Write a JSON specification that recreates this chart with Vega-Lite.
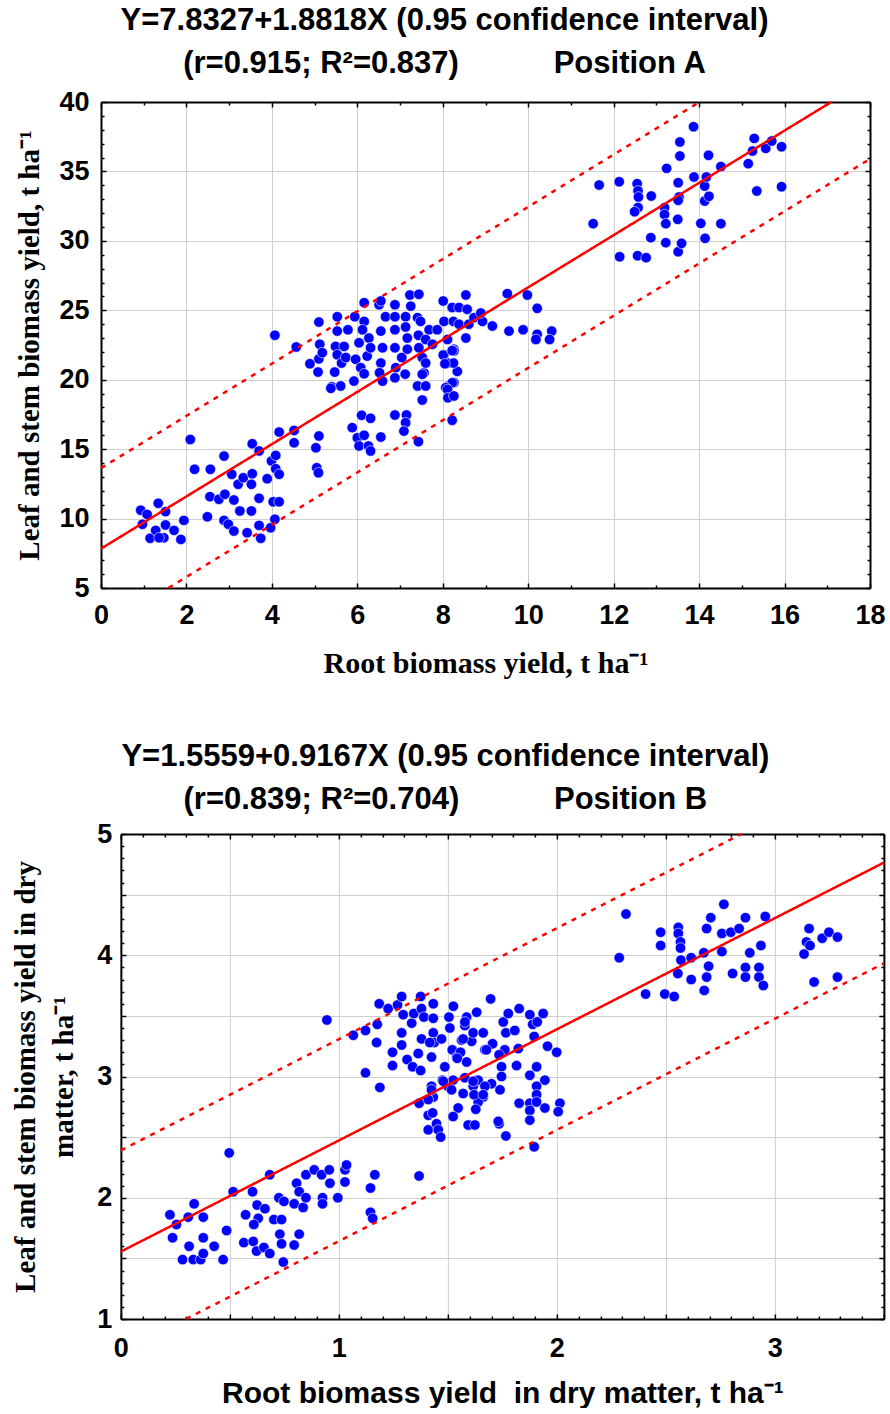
{
  "$schema": "https://vega.github.io/schema/vega-lite/v6.json",
  "background": "white",
  "padding": {"left": 11, "top": 5, "right": 0, "bottom": 0},
  "config": {
    "view": {"stroke": null},
    "axis": {"labelFont": "Liberation Sans", "labelFontWeight": "bold", "labelFontSize": 27, "labelColor": "black", "domainColor": "black", "domainWidth": 2, "tickColor": "black", "tickWidth": 1.5, "gridColor": "#cfcfcf", "gridWidth": 1, "titleColor": "black", "labelFlush": false, "labelOverlap": false},
    "title": {"font": "Liberation Sans", "fontSize": 31, "fontWeight": "bold", "color": "black", "lineHeight": 43}
  },
  "datasets": {
    "ptsA": [
      {"x":4.07,"y":23.2},{"x":4.57,"y":22.36},{"x":4.89,"y":21.15},{"x":5.08,"y":20.55},{"x":5.10,"y":24.15},{"x":5.12,"y":22.55},{"x":5.10,"y":21.5},{"x":5.18,"y":21.95},{"x":5.53,"y":24.54},{"x":5.53,"y":23.5},{"x":5.49,"y":22.4},{"x":5.53,"y":21.8},{"x":5.47,"y":20.55},{"x":5.40,"y":19.5},{"x":5.61,"y":19.55},{"x":5.63,"y":21.2},{"x":5.78,"y":23.6},{"x":5.73,"y":21.6},{"x":5.69,"y":22.4},{"x":5.94,"y":24.54},{"x":5.92,"y":19.9},{"x":6.16,"y":25.55},{"x":6.16,"y":24.2},{"x":6.12,"y":23.6},{"x":6.04,"y":22.66},{"x":5.96,"y":21.47},{"x":6.08,"y":20.87},{"x":6.16,"y":20.43},{"x":6.23,"y":21.7},{"x":6.27,"y":23.0},{"x":6.31,"y":22.3},{"x":6.51,"y":25.4},{"x":6.55,"y":25.67},{"x":6.55,"y":23.5},{"x":6.59,"y":22.3},{"x":6.55,"y":21.2},{"x":6.52,"y":20.5},{"x":6.59,"y":19.9},{"x":6.66,"y":24.54},{"x":6.88,"y":25.4},{"x":6.88,"y":24.54},{"x":6.88,"y":23.6},{"x":6.88,"y":22.3},{"x":6.90,"y":20.87},{"x":6.88,"y":20.14},{"x":7.04,"y":21.6},{"x":7.12,"y":20.4},{"x":7.13,"y":24.54},{"x":7.13,"y":23.8},{"x":7.17,"y":23.0},{"x":7.17,"y":22.2},{"x":7.23,"y":26.1},{"x":7.25,"y":25.3},{"x":7.41,"y":24.47},{"x":7.44,"y":26.15},{"x":7.43,"y":23.2},{"x":7.44,"y":22.3},{"x":7.48,"y":24.2},{"x":7.52,"y":21.6},{"x":7.60,"y":22.9},{"x":7.56,"y":20.5},{"x":7.60,"y":21.2},{"x":7.41,"y":19.55},{"x":7.60,"y":19.55},{"x":7.68,"y":23.6},{"x":7.87,"y":23.6},{"x":7.76,"y":22.55},{"x":8.01,"y":25.67},{"x":8.03,"y":24.2},{"x":8.11,"y":22.9},{"x":8.03,"y":21.8},{"x":8.11,"y":21.2},{"x":8.22,"y":25.2},{"x":8.25,"y":24.2},{"x":8.26,"y":22.2},{"x":8.34,"y":20.6},{"x":8.38,"y":25.2},{"x":8.38,"y":24.0},{"x":8.54,"y":26.1},{"x":8.57,"y":25.07},{"x":8.54,"y":23.0},{"x":8.61,"y":24.0},{"x":8.73,"y":24.47},{"x":8.93,"y":24.2},{"x":8.89,"y":24.8},{"x":8.13,"y":19.55},{"x":8.26,"y":19.8},
      {"x":9.16,"y":23.87},{"x":9.51,"y":26.2},{"x":9.98,"y":26.1},{"x":10.21,"y":25.14},{"x":9.55,"y":23.5},{"x":9.88,"y":23.6},{"x":10.21,"y":23.27},{"x":10.18,"y":22.9},{"x":10.55,"y":23.5},{"x":10.50,"y":22.9},{"x":8.26,"y":22.07},{"x":8.22,"y":19.78},{"x":8.07,"y":19.43},
      {"x":11.52,"y":31.24},{"x":11.66,"y":34.02},{"x":12.13,"y":34.26},{"x":12.14,"y":28.86},{"x":12.55,"y":34.12},{"x":12.57,"y":33.6},{"x":12.58,"y":33.16},{"x":12.57,"y":32.4},{"x":12.49,"y":32.1},{"x":12.56,"y":28.93},{"x":12.76,"y":28.79},{"x":12.88,"y":33.23},{"x":12.87,"y":30.23},{"x":13.19,"y":32.39},{"x":13.19,"y":31.9},{"x":13.22,"y":31.24},{"x":13.24,"y":35.22},{"x":13.22,"y":29.87},{"x":13.50,"y":31.55},{"x":13.51,"y":34.19},{"x":13.55,"y":36.11},{"x":13.55,"y":37.12},{"x":13.53,"y":33.16},{"x":13.51,"y":32.92},{"x":13.51,"y":29.22},{"x":13.59,"y":29.82},{"x":13.87,"y":38.22},{"x":13.88,"y":34.6},{"x":14.04,"y":31.26},{"x":14.13,"y":33.95},{"x":14.13,"y":32.87},{"x":14.23,"y":33.21},{"x":14.22,"y":36.16},{"x":14.17,"y":34.6},{"x":14.14,"y":30.18},{"x":14.51,"y":35.35},{"x":14.51,"y":31.24},{"x":15.15,"y":35.56},{"x":15.29,"y":37.38},{"x":15.25,"y":36.47},{"x":15.35,"y":33.59},{"x":15.56,"y":36.66},{"x":15.70,"y":37.19},{"x":15.93,"y":36.78},{"x":15.93,"y":33.9},
      {"x":5.38,"y":19.38},{"x":7.52,"y":18.54},{"x":8.11,"y":19.3},{"x":8.12,"y":18.7},{"x":8.26,"y":18.83},{"x":8.22,"y":17.08},{"x":6.10,"y":17.44},{"x":6.31,"y":17.22},{"x":5.88,"y":16.55},{"x":6.0,"y":15.82},{"x":6.04,"y":15.23},{"x":6.16,"y":16.0},{"x":6.26,"y":15.23},{"x":6.31,"y":14.87},{"x":6.55,"y":15.87},{"x":6.88,"y":17.46},{"x":7.15,"y":17.46},{"x":7.13,"y":16.9},{"x":7.09,"y":16.3},{"x":7.43,"y":15.54},{"x":7.52,"y":20.39},{"x":8.01,"y":21.78},{"x":8.22,"y":22.1},{"x":8.25,"y":21.2},{"x":8.05,"y":21.15},
      {"x":2.09,"y":15.7},{"x":2.19,"y":13.55},{"x":2.56,"y":13.55},{"x":2.88,"y":14.5},{"x":3.06,"y":13.19},{"x":3.21,"y":12.47},{"x":3.33,"y":12.94},{"x":3.54,"y":15.39},{"x":3.54,"y":13.23},{"x":3.52,"y":12.47},{"x":3.70,"y":14.87},{"x":3.89,"y":12.87},{"x":3.99,"y":14.15},{"x":4.09,"y":14.55},{"x":4.09,"y":13.59},{"x":4.17,"y":13.19},{"x":4.17,"y":16.23},{"x":4.52,"y":16.35},{"x":4.52,"y":15.46},{"x":5.03,"y":15.1},{"x":5.10,"y":15.95},{"x":5.05,"y":13.66},{"x":5.09,"y":13.3},{"x":2.55,"y":11.58},{"x":2.76,"y":11.39},{"x":2.90,"y":11.75},{"x":3.11,"y":11.34},{"x":2.49,"y":10.13},{"x":2.88,"y":9.87},{"x":2.98,"y":9.59},{"x":3.11,"y":9.1},{"x":3.25,"y":10.55},{"x":3.42,"y":8.98},{"x":3.52,"y":10.55},{"x":3.70,"y":11.46},{"x":3.70,"y":9.51},{"x":3.74,"y":8.58},{"x":3.97,"y":9.34},{"x":4.03,"y":11.21},{"x":4.17,"y":11.21},{"x":4.07,"y":9.95},{"x":0.93,"y":10.6},{"x":0.97,"y":9.59},{"x":1.08,"y":10.3},{"x":1.34,"y":11.1},{"x":1.51,"y":10.5},{"x":1.15,"y":8.58},{"x":1.28,"y":9.15},{"x":1.47,"y":8.62},{"x":1.51,"y":9.54},{"x":1.71,"y":9.15},{"x":1.87,"y":8.5},{"x":1.94,"y":9.87},{"x":1.36,"y":8.62}
    ],
    "linesA": [
      {"x":0,"y":7.8327,"x2":17.094,"y2":40,"kind":"fit"},
      {"x":0,"y":13.63,"x2":14.01,"y2":40,"kind":"ci"},
      {"x":1.578,"y":5,"x2":18,"y2":35.9,"kind":"ci"}
    ],
    "ptsB": [
      {"x":0.945,"y":3.466},{"x":1.066,"y":3.34},{"x":1.122,"y":3.38},{"x":1.122,"y":3.03},{"x":1.188,"y":2.91},{"x":1.176,"y":3.43},{"x":1.173,"y":3.28},{"x":1.185,"y":3.60},{"x":1.226,"y":3.56},{"x":1.246,"y":3.20},{"x":1.246,"y":3.09},{"x":1.269,"y":3.59},{"x":1.288,"y":3.66},{"x":1.288,"y":3.36},{"x":1.288,"y":3.26},{"x":1.295,"y":3.51},{"x":1.313,"y":3.14},{"x":1.338,"y":3.08},{"x":1.334,"y":3.44},{"x":1.344,"y":3.52},{"x":1.364,"y":3.19},{"x":1.375,"y":3.66},{"x":1.379,"y":3.56},{"x":1.379,"y":3.31},{"x":1.375,"y":3.05},{"x":1.39,"y":3.49},{"x":1.425,"y":3.16},{"x":1.433,"y":3.60},{"x":1.433,"y":3.48},{"x":1.433,"y":3.36},{"x":1.437,"y":3.28},{"x":1.417,"y":3.28},{"x":1.471,"y":3.31},{"x":1.475,"y":2.97},{"x":1.486,"y":3.08},{"x":1.505,"y":3.49},{"x":1.509,"y":3.40},{"x":1.525,"y":3.58},{"x":1.52,"y":3.22},{"x":1.54,"y":3.16},{"x":1.558,"y":3.20},{"x":1.563,"y":3.30},{"x":1.578,"y":3.42},{"x":1.586,"y":3.49},{"x":1.586,"y":3.12},{"x":1.609,"y":3.29},{"x":1.616,"y":3.36},{"x":1.632,"y":3.53},{"x":1.662,"y":3.36},{"x":1.670,"y":3.22},{"x":1.696,"y":3.64},{"x":1.705,"y":3.27},{"x":1.50,"y":2.92},{"x":1.524,"y":2.97},{"x":1.632,"y":2.97},{"x":1.616,"y":2.92},{"x":1.70,"y":2.94},{"x":1.425,"y":2.92},{"x":1.433,"y":2.83},{"x":1.578,"y":2.99},
      {"x":1.578,"y":3.45},{"x":1.570,"y":3.31},{"x":1.543,"y":3.15},{"x":1.677,"y":3.22},{"x":1.754,"y":3.45},{"x":1.777,"y":3.52},{"x":1.766,"y":3.36},{"x":1.807,"y":3.38},{"x":1.827,"y":3.56},{"x":1.876,"y":3.51},{"x":1.889,"y":3.43},{"x":1.910,"y":3.45},{"x":1.937,"y":3.52},{"x":1.761,"y":3.22},{"x":1.735,"y":3.18},{"x":1.823,"y":3.23},{"x":1.896,"y":3.33},{"x":1.957,"y":3.25},{"x":1.999,"y":3.20},{"x":1.815,"y":3.09},{"x":1.746,"y":3.08},{"x":1.746,"y":3.0},{"x":1.876,"y":3.01},{"x":1.907,"y":3.08},{"x":1.945,"y":2.97},{"x":1.907,"y":2.92},{"x":1.639,"y":2.97},
      {"x":1.907,"y":2.85},{"x":1.827,"y":2.78},{"x":1.876,"y":2.78},{"x":1.907,"y":2.79},{"x":1.876,"y":2.72},{"x":1.945,"y":2.74},{"x":2.014,"y":2.78},{"x":2.006,"y":2.71},{"x":1.876,"y":2.64},{"x":1.735,"y":2.61},{"x":1.766,"y":2.51},{"x":1.896,"y":2.42},{"x":1.547,"y":2.74},{"x":1.598,"y":2.60},{"x":1.479,"y":2.96},{"x":1.517,"y":2.89},{"x":1.616,"y":2.96},{"x":1.67,"y":2.92},{"x":1.739,"y":2.89},{"x":1.662,"y":2.83},{"x":1.639,"y":2.79},{"x":1.570,"y":2.86},
      {"x":1.368,"y":2.78},{"x":1.41,"y":2.81},{"x":1.425,"y":2.89},{"x":1.41,"y":2.68},{"x":1.43,"y":2.70},{"x":1.41,"y":2.56},{"x":1.448,"y":2.61},{"x":1.456,"y":2.56},{"x":1.467,"y":2.50},{"x":1.524,"y":2.67},{"x":1.593,"y":2.60},{"x":1.624,"y":2.60},{"x":1.628,"y":2.73},{"x":1.62,"y":2.85},{"x":1.662,"y":2.85},{"x":1.731,"y":2.63},
      {"x":2.317,"y":4.34},{"x":2.286,"y":3.98},{"x":2.407,"y":3.68},{"x":2.495,"y":3.68},{"x":2.538,"y":3.66},{"x":2.476,"y":4.19},{"x":2.476,"y":4.08},{"x":2.557,"y":4.23},{"x":2.557,"y":4.18},{"x":2.567,"y":4.11},{"x":2.567,"y":4.06},{"x":2.569,"y":3.96},{"x":2.555,"y":3.85},{"x":2.616,"y":3.98},{"x":2.616,"y":3.80},{"x":2.674,"y":4.02},{"x":2.696,"y":3.91},{"x":2.687,"y":3.82},{"x":2.676,"y":3.71},{"x":2.687,"y":4.22},{"x":2.706,"y":4.31},{"x":2.766,"y":4.42},{"x":2.757,"y":4.18},{"x":2.757,"y":4.03},{"x":2.798,"y":4.19},{"x":2.806,"y":3.85},{"x":2.836,"y":4.22},{"x":2.865,"y":4.31},{"x":2.865,"y":3.90},{"x":2.865,"y":3.82},{"x":2.885,"y":4.02},{"x":2.927,"y":3.90},{"x":2.927,"y":3.82},{"x":2.936,"y":4.08},{"x":2.947,"y":3.75},{"x":2.956,"y":4.32},{"x":3.134,"y":4.01},{"x":3.145,"y":4.11},{"x":3.157,"y":4.22},{"x":3.161,"y":4.08},{"x":3.18,"y":3.78},{"x":3.217,"y":4.14},{"x":3.248,"y":4.19},{"x":3.287,"y":4.15},{"x":3.287,"y":3.82},
      {"x":0.497,"y":2.37},{"x":0.515,"y":2.05},{"x":0.225,"y":1.86},{"x":0.255,"y":1.78},{"x":0.237,"y":1.67},{"x":0.309,"y":1.84},{"x":0.336,"y":1.95},{"x":0.378,"y":1.84},{"x":0.378,"y":1.67},{"x":0.313,"y":1.60},{"x":0.283,"y":1.49},{"x":0.332,"y":1.49},{"x":0.366,"y":1.49},{"x":0.378,"y":1.54},{"x":0.428,"y":1.60},{"x":0.469,"y":1.49},{"x":0.485,"y":1.73},{"x":0.572,"y":1.86},{"x":0.604,"y":2.05},{"x":0.625,"y":1.94},{"x":0.630,"y":1.83},{"x":0.61,"y":1.78},{"x":0.564,"y":1.63},{"x":0.607,"y":1.64},{"x":0.622,"y":1.56},{"x":0.661,"y":1.91},{"x":0.656,"y":1.59},{"x":0.683,"y":1.54},{"x":0.683,"y":2.19},{"x":0.702,"y":1.82},{"x":0.725,"y":2.00},{"x":0.729,"y":1.70},{"x":0.737,"y":1.82},{"x":0.737,"y":1.62},{"x":0.745,"y":1.47},{"x":0.748,"y":1.97},{"x":0.795,"y":1.95},{"x":0.806,"y":2.12},{"x":0.818,"y":2.05},{"x":0.818,"y":1.70},{"x":0.795,"y":1.61},{"x":0.836,"y":1.92},{"x":0.849,"y":2.00},{"x":0.849,"y":2.19},{"x":0.887,"y":2.23},{"x":0.921,"y":2.19},{"x":0.956,"y":2.23},{"x":0.959,"y":2.12},{"x":0.925,"y":2.00},{"x":0.925,"y":1.95},{"x":0.995,"y":2.00},{"x":1.028,"y":2.23},{"x":1.035,"y":2.27},{"x":1.028,"y":2.13},{"x":1.145,"y":2.08},{"x":1.165,"y":2.19},{"x":1.145,"y":1.88},{"x":1.155,"y":1.83},{"x":1.368,"y":2.18}
    ],
    "linesB": [
      {"x":0,"y":1.5559,"x2":3.5,"y2":4.7644,"kind":"fit"},
      {"x":0,"y":2.39,"x2":2.846,"y2":5,"kind":"ci"},
      {"x":0.299,"y":1,"x2":3.5,"y2":3.934,"kind":"ci"}
    ]
  },
  "spacing": 63,
  "center": true,
  "vconcat": [
    {
      "width": 769,
      "height": 486,
      "title": {"text": ["Y=7.8327+1.8818X (0.95 confidence interval)", "(r=0.915; R²=0.837)\u00a0\u00a0\u00a0\u00a0\u00a0\u00a0\u00a0\u00a0\u00a0\u00a0\u00a0Position A"], "anchor": "middle", "frame": "group", "dx": -41, "offset": 8},
      "layer": [
        {
          "data": {"name": "ptsA"},
          "mark": {"type": "circle", "size": 110, "color": "#0000ff", "opacity": 1, "stroke": "white", "strokeWidth": 0.6},
          "encoding": {
            "x": {"field": "x", "type": "quantitative", "scale": {"domain": [0, 18], "nice": false, "zero": false},
              "axis": {"orient": "bottom", "values": [0,1,2,3,4,5,6,7,8,9,10,11,12,13,14,15,16,17,18],
                "labelExpr": "datum.value % 2 === 0 ? format(datum.value, 'd') : ''",
                "grid": true, "gridOpacity": {"condition": {"test": "datum.value % 2 === 0", "value": 1}, "value": 0},
                "tickSize": -5, "tickDash": {"condition": {"test": "datum.value % 2 === 0", "value": [5, 5]}, "value": [3, 10]},
                "labelPadding": 19, "title": "Root biomass yield, t ha\u207b\u00b9", "titleFont": "Liberation Serif", "titleFontSize": 30, "titleFontWeight": "bold", "titlePadding": 20}},
            "y": {"field": "y", "type": "quantitative", "scale": {"domain": [5, 40], "nice": false, "zero": false},
              "axis": {"orient": "left", "values": [5,6,7,8,9,10,11,12,13,14,15,16,17,18,19,20,21,22,23,24,25,26,27,28,29,30,31,32,33,34,35,36,37,38,39,40],
                "labelExpr": "datum.value % 5 === 0 ? format(datum.value, 'd') : ''",
                "grid": true, "gridOpacity": {"condition": {"test": "datum.value % 5 === 0", "value": 1}, "value": 0},
                "tickSize": -5, "tickDash": {"condition": {"test": "datum.value % 5 === 0", "value": [5, 5]}, "value": [3, 10]},
                "labelPadding": 17, "title": "Leaf and stem biomass yield, t ha\u207b\u00b9", "titleFont": "Liberation Serif", "titleFontSize": 29, "titleFontWeight": "bold", "titlePadding": 14}}
          }
        },
        {
          "data": {"name": "linesA"},
          "mark": {"type": "rule", "color": "#ff0000", "strokeWidth": 2.5},
          "encoding": {
            "x": {"field": "x", "type": "quantitative",
              "axis": {"orient": "top", "values": [0,1,2,3,4,5,6,7,8,9,10,11,12,13,14,15,16,17,18], "labels": false, "grid": false, "title": null,
                "tickSize": -5, "tickDash": {"condition": {"test": "datum.value % 2 === 0", "value": [5, 5]}, "value": [3, 10]}}},
            "x2": {"field": "x2"},
            "y": {"field": "y", "type": "quantitative",
              "axis": {"orient": "right", "values": [5,6,7,8,9,10,11,12,13,14,15,16,17,18,19,20,21,22,23,24,25,26,27,28,29,30,31,32,33,34,35,36,37,38,39,40], "labels": false, "title": null,
                "tickSize": 35, "tickOpacity": 0,
                "grid": true, "gridColor": "black", "gridWidth": 1.5, "gridOpacity": 1,
                "gridDash": {"condition": {"test": "datum.value % 5 === 0", "value": [5, 3000]}, "value": [3, 3000]}}},
            "y2": {"field": "y2"},
            "strokeDash": {"condition": {"test": "datum.kind === 'fit'", "value": [1, 0]}, "value": [5, 6]}
          }
        }
      ],
      "resolve": {"axis": {"x": "independent", "y": "independent"}}
    },
    {
      "width": 763,
      "height": 485,
      "title": {"text": ["Y=1.5559+0.9167X (0.95 confidence interval)", "(r=0.839; R²=0.704)\u00a0\u00a0\u00a0\u00a0\u00a0\u00a0\u00a0\u00a0\u00a0\u00a0\u00a0Position B"], "anchor": "middle", "frame": "group", "dx": -57, "offset": 4},
      "layer": [
        {
          "data": {"name": "ptsB"},
          "mark": {"type": "circle", "size": 110, "color": "#0000ff", "opacity": 1, "stroke": "white", "strokeWidth": 0.6},
          "encoding": {
            "x": {"field": "x", "type": "quantitative", "scale": {"domain": [0, 3.5], "nice": false, "zero": false},
              "axis": {"orient": "bottom", "values": [0,0.1,0.2,0.3,0.4,0.5,0.6,0.7,0.8,0.9,1,1.1,1.2,1.3,1.4,1.5,1.6,1.7,1.8,1.9,2,2.1,2.2,2.3,2.4,2.5,2.6,2.7,2.8,2.9,3,3.1,3.2,3.3,3.4,3.5],
                "labelExpr": "round(datum.value * 10) % 10 === 0 ? format(datum.value, 'd') : ''",
                "grid": true, "gridOpacity": {"condition": {"test": "round(datum.value * 10) % 5 === 0", "value": 1}, "value": 0},
                "tickSize": -5, "tickDash": {"condition": {"test": "round(datum.value * 10) % 5 === 0", "value": [5, 5]}, "value": [3, 10]},
                "labelPadding": 21, "title": "Root biomass yield\u00a0 in dry matter, t ha\u207b\u00b9", "titleFont": "Liberation Sans", "titleFontSize": 30, "titleFontWeight": "bold", "titlePadding": 17}},
            "y": {"field": "y", "type": "quantitative", "scale": {"domain": [1, 5], "nice": false, "zero": false},
              "axis": {"orient": "left", "values": [1,1.1,1.2,1.3,1.4,1.5,1.6,1.7,1.8,1.9,2,2.1,2.2,2.3,2.4,2.5,2.6,2.7,2.8,2.9,3,3.1,3.2,3.3,3.4,3.5,3.6,3.7,3.8,3.9,4,4.1,4.2,4.3,4.4,4.5,4.6,4.7,4.8,4.9,5],
                "labelExpr": "round(datum.value * 10) % 10 === 0 ? format(datum.value, 'd') : ''",
                "grid": true, "gridOpacity": {"condition": {"test": "round(datum.value * 10) % 5 === 0", "value": 1}, "value": 0},
                "tickSize": -5, "tickDash": {"condition": {"test": "round(datum.value * 10) % 5 === 0", "value": [5, 5]}, "value": [3, 10]},
                "labelPadding": 14, "title": ["Leaf and stem biomass yield in dry", "matter, t ha\u207b\u00b9"], "titleFont": "Liberation Serif", "titleFontSize": 29, "titleFontWeight": "bold", "titleLineHeight": 38, "titlePadding": 18}}
          }
        },
        {
          "data": {"name": "linesB"},
          "mark": {"type": "rule", "color": "#ff0000", "strokeWidth": 2.5},
          "encoding": {
            "x": {"field": "x", "type": "quantitative",
              "axis": {"orient": "top", "values": [0,0.1,0.2,0.3,0.4,0.5,0.6,0.7,0.8,0.9,1,1.1,1.2,1.3,1.4,1.5,1.6,1.7,1.8,1.9,2,2.1,2.2,2.3,2.4,2.5,2.6,2.7,2.8,2.9,3,3.1,3.2,3.3,3.4,3.5], "labels": false, "grid": false, "title": null,
                "tickSize": -5, "tickDash": {"condition": {"test": "round(datum.value * 10) % 5 === 0", "value": [5, 5]}, "value": [3, 10]}}},
            "x2": {"field": "x2"},
            "y": {"field": "y", "type": "quantitative",
              "axis": {"orient": "right", "values": [1,1.1,1.2,1.3,1.4,1.5,1.6,1.7,1.8,1.9,2,2.1,2.2,2.3,2.4,2.5,2.6,2.7,2.8,2.9,3,3.1,3.2,3.3,3.4,3.5,3.6,3.7,3.8,3.9,4,4.1,4.2,4.3,4.4,4.5,4.6,4.7,4.8,4.9,5], "labels": false, "grid": false, "title": null,
                "tickSize": -5, "tickDash": {"condition": {"test": "round(datum.value * 10) % 5 === 0", "value": [5, 5]}, "value": [3, 10]}}},
            "y2": {"field": "y2"},
            "strokeDash": {"condition": {"test": "datum.kind === 'fit'", "value": [1, 0]}, "value": [5, 6]}
          }
        }
      ],
      "resolve": {"axis": {"x": "independent", "y": "independent"}}
    }
  ]
}
